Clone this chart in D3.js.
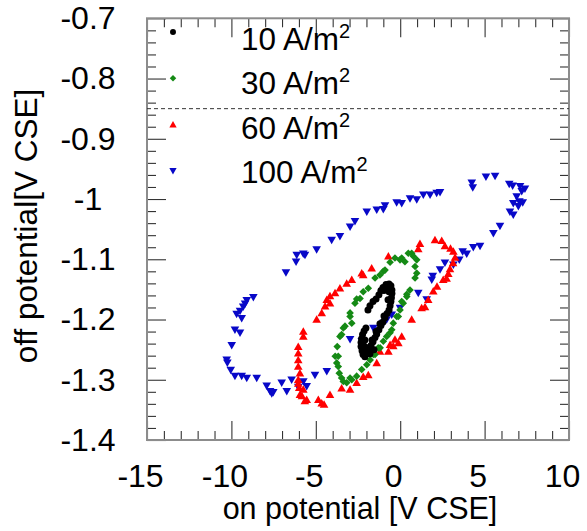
<!DOCTYPE html>
<html><head><meta charset="utf-8">
<script src="https://cdn.jsdelivr.net/npm/d3@7"></script>
<style>
body{margin:0;background:#fff}
svg{display:block}
text{font-family:"Liberation Sans",Arial,Helvetica,sans-serif;fill:#000}
</style>
</head><body>
<svg id="c" width="587" height="531"></svg>
<script>
// ---------------- data ----------------
const seriesLabels = ["10 A/m", "30 A/m", "60 A/m", "100 A/m"];
const labelSup = "2";
const xTickValues = [-15, -10, -5, 0, 5, 10];
const yTickValues = [-0.7, -0.8, -0.9, -1, -1.1, -1.2, -1.3, -1.4];
const refLineY = -0.85;
const xTitle = "on potential [V CSE]";
const yTitle = "off potential[V CSE]";

const s10 = [[-1.91,-1.184],[-1.79,-1.177],[-1.61,-1.170],[-1.43,-1.166],[-1.26,-1.159],[-1.14,-1.152],
 [-1.02,-1.147],[-0.84,-1.142],[-0.66,-1.141],[-0.55,-1.144],[-0.49,-1.151],[-0.49,-1.157],[-0.52,-1.164],
 [-0.55,-1.170],[-0.60,-1.177],[-0.66,-1.184],[-0.78,-1.190],[-0.90,-1.197],[-1.02,-1.204],[-1.14,-1.210],
 [-1.26,-1.217],[-1.39,-1.224],[-1.49,-1.230],[-1.61,-1.237],[-1.73,-1.243],[-1.85,-1.250],[-1.97,-1.257],
 [-2.09,-1.262],[-2.20,-1.258],[-2.26,-1.252],[-2.32,-1.245],[-2.32,-1.238],[-2.29,-1.232],[-2.23,-1.225],
 [-2.14,-1.219],[-2.03,-1.214],[-0.66,-1.154],[-0.72,-1.167],[-0.96,-1.194],[-1.20,-1.207],[-1.43,-1.220],
 [-1.67,-1.234],[-1.91,-1.247],[-1.79,-1.257],[-1.55,-1.250],[-2.03,-1.254],[-2.14,-1.244],[-2.09,-1.234],
 [-0.78,-1.148],[-0.96,-1.152]];

const s30 = [[0.68,-1.090],[0.78,-1.095],[0.98,-1.101],[0.88,-1.112],[0.98,-1.123],[0.88,-1.131],[0.58,-1.151],
 [0.39,-1.162],[0.18,-1.173],[-0.01,-1.184],[-0.21,-1.195],[-0.41,-1.206],[-0.50,-1.217],[-0.80,-1.228],
 [-1.00,-1.236],[-1.19,-1.247],[-1.49,-1.258],[-1.78,-1.267],[-1.98,-1.275],[-2.28,-1.283],[-2.58,-1.294],
 [-2.87,-1.300],[-3.17,-1.305],[-3.47,-1.297],[-3.61,-1.289],[-3.67,-1.278],[-3.67,-1.261],[-3.73,-1.245],
 [-3.57,-1.228],[-3.37,-1.214],[-2.97,-1.195],[-2.68,-1.173],[-2.38,-1.165],[-2.19,-1.154],[-1.89,-1.148],
 [-1.49,-1.131],[-1.20,-1.126],[-0.90,-1.118],[-0.60,-1.105],[-0.31,-1.098],[-0.01,-1.101],[0.28,-1.104],
 [0.48,-1.090],[0.09,-1.098],[-1.00,-1.120],[-2.87,-1.206],[-3.85,-1.261],[-3.76,-1.272],[-3.37,-1.303],
 [-2.97,-1.297],[0.39,-1.158],[0.09,-1.170],[-0.11,-1.195],[-0.60,-1.222],[-1.30,-1.247],[-1.59,-1.258],
 [-2.58,-1.166],[-2.97,-1.189],[-3.27,-1.211],[-3.47,-1.225]];

const s60 = [[1.17,-1.074],[1.07,-1.083],[2.06,-1.068],[2.46,-1.069],[2.65,-1.078],[2.98,-1.082],[3.15,-1.087],
 [3.25,-1.097],[3.13,-1.106],[2.95,-1.116],[2.85,-1.124],[2.75,-1.132],[2.55,-1.134],[2.18,-1.145],[1.96,-1.153],
 [1.66,-1.167],[1.27,-1.181],[1.47,-1.179],[0.68,-1.200],[0.09,-1.228],[-0.11,-1.239],[-0.41,-1.244],
 [-0.70,-1.253],[-0.60,-1.242],[-0.31,-1.233],[-1.20,-1.253],[-1.39,-1.272],[-1.89,-1.292],[-2.19,-1.295],
 [-2.58,-1.305],[-2.97,-1.316],[-3.47,-1.314],[-4.16,-1.325],[-4.65,-1.339],[-4.85,-1.333],[-4.51,-1.341],
 [-5.54,-1.333],[-5.74,-1.316],[-5.94,-1.325],[-6.04,-1.306],[-6.04,-1.300],[-5.94,-1.289],[-6.04,-1.278],
 [-6.04,-1.267],[-6.04,-1.256],[-6.04,-1.245],[-5.74,-1.228],[-5.74,-1.220],[-4.95,-1.200],[-4.65,-1.189],
 [-4.45,-1.178],[-4.16,-1.173],[-4.35,-1.167],[-4.16,-1.161],[-3.86,-1.156],[-3.57,-1.148],[-3.17,-1.140],
 [-2.87,-1.134],[-2.28,-1.123],[-1.69,-1.115],[-0.70,-1.095],[-2.19,-1.126],[-5.98,-1.313],[-5.82,-1.327],
 [-5.65,-1.335]];

const s100 = [[-6.13,-1.093],[-5.64,-1.093],[-6.17,-1.104],[-6.77,-1.122],[-8.70,-1.163],[-9.09,-1.168],
 [-9.19,-1.174],[-9.30,-1.179],[-9.49,-1.186],[-9.69,-1.191],[-9.39,-1.198],[-9.79,-1.217],[-9.49,-1.222],
 [-9.98,-1.243],[-10.28,-1.267],[-10.24,-1.272],[-10.04,-1.284],[-9.79,-1.294],[-9.39,-1.294],[-9.09,-1.297],
 [-8.50,-1.297],[-7.91,-1.310],[-7.71,-1.319],[-7.61,-1.323],[-7.52,-1.321],[-7.02,-1.305],[-6.72,-1.319],
 [-6.43,-1.300],[-6.04,-1.312],[-5.74,-1.303],[-5.54,-1.311],[-5.05,-1.292],[-4.35,-1.286],[-2.97,-1.233],
 [-2.68,-1.037],[-2.97,-1.046],[-3.57,-1.062],[-4.06,-1.068],[-4.95,-1.084],[-5.74,-1.091],[-1.98,-1.021],
 [-1.39,-1.018],[-1.00,-1.017],[-0.90,-1.011],[-0.21,-1.006],[0.09,-1.007],[0.58,-0.999],[0.98,-1.001],
 [1.37,-0.993],[1.77,-0.993],[2.16,-0.990],[2.36,-0.989],[4.24,-0.973],[4.30,-0.981],[5.08,-0.963],
 [5.62,-0.962],[6.46,-0.975],[6.66,-0.978],[7.10,-0.979],[7.39,-0.983],[7.20,-0.987],[6.90,-0.996],
 [7.06,-1.004],[6.70,-1.007],[7.26,-1.006],[7.00,-1.012],[6.50,-1.021],[6.70,-1.026],[5.91,-1.045],
 [5.52,-1.057],[4.73,-1.078],[4.33,-1.080],[3.94,-1.091],[3.70,-1.087],[3.50,-1.101],[3.15,-1.109],
 [2.65,-1.106],[2.36,-1.117],[1.93,-1.128],[1.87,-1.134],[1.07,-1.156],[1.57,-1.167],[-0.01,-1.181],
 [-0.50,-1.192],[-0.80,-1.200],[-1.00,-1.206],[-1.59,-1.214],[-2.28,-1.236]];

// ---------------- chart ----------------
const svg = d3.select("#c");
const L = 147, R = 569, T = 18.3, B = 440;
const x = d3.scaleLinear().domain([-15, 10]).range([L, R]);
const y = d3.scaleLinear().domain([-1.4, -0.7]).range([B, T]);

const xMinor = x.ticks(25).filter(v => !xTickValues.includes(v));
const yMinor = y.ticks(35).filter(v => !yTickValues.some(t => Math.abs(t - v) < 1e-6));
const fmt = d => String(d);

const MAJ = 19, MIN = 9;
function styleAxis(g) {
  g.select(".domain").remove();
  g.selectAll(".tick line").attr("stroke", "#333").attr("stroke-width", 1.1);
}

// bottom
const gb = svg.append("g").attr("transform", `translate(0,${B})`)
  .call(d3.axisBottom(x).tickValues(xTickValues).tickSize(-MAJ).tickPadding(24).tickFormat(fmt));
styleAxis(gb);
gb.selectAll("text").attr("font-size", 32).attr("font-family", '"Liberation Sans",Arial,sans-serif')
  .attr("fill", "#000").attr("dx", -7);
svg.append("g").attr("transform", `translate(0,${B})`)
  .call(d3.axisBottom(x).tickValues(xMinor).tickSize(-MIN).tickFormat("")).call(styleAxis);
// top
svg.append("g").attr("transform", `translate(0,${T})`)
  .call(d3.axisTop(x).tickValues(xTickValues).tickSize(-MAJ).tickFormat("")).call(styleAxis);
svg.append("g").attr("transform", `translate(0,${T})`)
  .call(d3.axisTop(x).tickValues(xMinor).tickSize(-MIN).tickFormat("")).call(styleAxis);
// left
const gl = svg.append("g").attr("transform", `translate(${L},0)`)
  .call(d3.axisLeft(y).tickValues(yTickValues).tickSize(-MAJ).tickFormat(fmt));
styleAxis(gl);
gl.selectAll("text").attr("font-size", 32).attr("font-family", '"Liberation Sans",Arial,sans-serif')
  .attr("fill", "#000").attr("text-anchor", "middle").attr("x", 88 - L);
svg.append("g").attr("transform", `translate(${L},0)`)
  .call(d3.axisLeft(y).tickValues(yMinor).tickSize(-MIN).tickFormat("")).call(styleAxis);
// right
svg.append("g").attr("transform", `translate(${R},0)`)
  .call(d3.axisRight(y).tickValues(yTickValues).tickSize(-MAJ).tickFormat("")).call(styleAxis);
svg.append("g").attr("transform", `translate(${R},0)`)
  .call(d3.axisRight(y).tickValues(yMinor).tickSize(-MIN).tickFormat("")).call(styleAxis);

// frame
svg.append("rect").attr("x", L).attr("y", T).attr("width", R - L).attr("height", B - T)
  .attr("fill", "none").attr("stroke", "#8c8c8c").attr("stroke-width", 2);

// reference dashed line
svg.append("line").attr("x1", L).attr("x2", R).attr("y1", y(refLineY)).attr("y2", y(refLineY))
  .attr("stroke", "#333").attr("stroke-width", 1).attr("stroke-dasharray", "4,3");

// markers
const shapes = {
  circle: "M3.5,0A3.5,3.5 0 1,1 -3.5,0A3.5,3.5 0 1,1 3.5,0Z",
  diamond: "M0,-3.8L3.8,0L0,3.8L-3.8,0Z",
  up: "M0,-4.2L4.3,3.3L-4.3,3.3Z",
  down: "M-4.3,-3.3L4.3,-3.3L0,4.2Z"
};
const series = [
  {data: s10, color: "#000000", shape: "circle"},
  {data: s30, color: "#158a15", shape: "diamond"},
  {data: s60, color: "#ff0000", shape: "up"},
  {data: s100, color: "#0808c8", shape: "down"}
];
// draw order: 100, 60, 30, 10 (10 on top)
[3, 2, 1, 0].forEach(i => {
  const s = series[i];
  svg.append("g").selectAll("path").data(s.data).join("path")
    .attr("d", shapes[s.shape])
    .attr("transform", d => `translate(${x(d[0])},${y(d[1])})`)
    .attr("fill", s.color);
});

// legend
const lg = svg.append("g");
series.forEach((s, i) => {
  const my = 32 + i * 46.3;
  lg.append("path").attr("d", shapes[s.shape]).attr("transform", `translate(173,${my}) scale(0.85)`).attr("fill", s.color);
  const t = lg.append("text").attr("x", 241).attr("y", 50 + i * 44.4).attr("font-size", 31.5);
  t.append("tspan").text(seriesLabels[i]);
  t.append("tspan").attr("font-size", 20).attr("dy", -12).text(labelSup);
});

// axis titles
svg.append("text").attr("x", 360).attr("y", 519).attr("text-anchor", "middle")
  .attr("font-size", 30.5).text(xTitle);
svg.append("text").attr("transform", "translate(37,226) rotate(-90)").attr("text-anchor", "middle")
  .attr("font-size", 31.5).text(yTitle);
</script>
</body></html>
